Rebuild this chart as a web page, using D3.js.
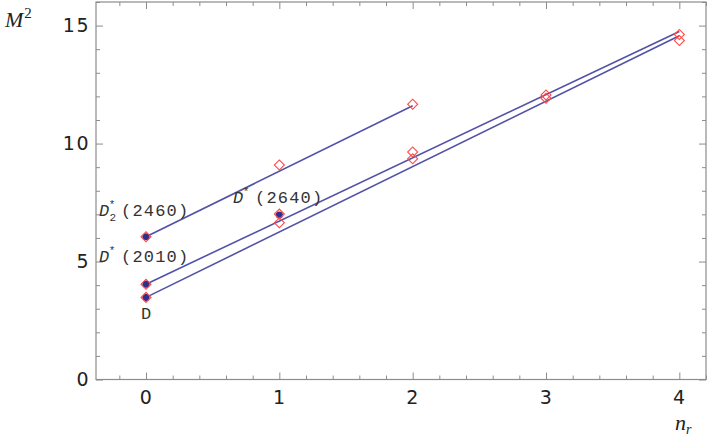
<!DOCTYPE html>
<html><head><meta charset="utf-8">
<script src="https://cdn.jsdelivr.net/npm/d3@7"></script>
<style>
html,body{margin:0;padding:0;background:#fff;}
svg{display:block;}
.tick text{font-family:"DejaVu Sans",sans-serif;font-size:19px;fill:#222;letter-spacing:1.5px;}
</style>
</head><body>
<svg id="chart" width="708" height="440"></svg>
<script>
// n_r values
const nrD = [0, 1, 2, 3, 4];
const nrDstar = [0, 1, 2, 3, 4];
const nrD2star = [0, 1, 2];
// predicted M^2 (diamonds)
const predD = [3.48, 6.64, 9.36, 11.92, 14.37];
const predDstar = [4.04, 7.01, 9.64, 12.06, 14.62];
const predD2star = [6.05, 9.09, 11.67];
// experimental M^2 (filled dots)
const expN = [0, 0, 0, 1];
const expM2 = [3.48, 4.04, 6.05, 6.97];
// straight trajectory lines: [n start, n end] and M^2 at those ends
const lineN = [[0, 4], [0, 4], [0, 2]];
const lineM2 = [[3.48, 14.57], [4.04, 14.75], [6.05, 11.6]];
// axis ticks
const xMajor = [0, 1, 2, 3, 4];
const xMinor = [-0.2, 0.2, 0.4, 0.6, 0.8, 1.2, 1.4, 1.6, 1.8, 2.2, 2.4, 2.6, 2.8, 3.2, 3.4, 3.6, 3.8, 4.2];
const yMajor = [0, 5, 10, 15];
const yMinor = [1, 2, 3, 4, 6, 7, 8, 9, 11, 12, 13, 14, 16];

const svg = d3.select("#chart");
const L = 96, R = 706, T = 2, B = 379.5;
const x = d3.scaleLinear().domain([-0.375, 4.2]).range([L, R]);
const y = d3.scaleLinear().domain([0, 16]).range([B, T]);

const axisColor = "#8c8c8c";
function styleAxis(g) {
  g.select(".domain").remove();
  g.selectAll(".tick line").attr("stroke", axisColor).attr("stroke-width", 1);
}
// bottom
svg.append("g").attr("transform", `translate(0,${B})`)
  .call(d3.axisBottom(x).tickValues(xMajor).tickSize(-7).tickPadding(11).tickFormat(d3.format("d")))
  .call(styleAxis);
svg.append("g").attr("transform", `translate(0,${B})`)
  .call(d3.axisBottom(x).tickValues(xMinor).tickSize(-4).tickFormat(""))
  .call(styleAxis);
// top mirror
svg.append("g").attr("transform", `translate(0,${T})`)
  .call(d3.axisTop(x).tickValues(xMajor).tickSize(-7).tickFormat(""))
  .call(styleAxis);
svg.append("g").attr("transform", `translate(0,${T})`)
  .call(d3.axisTop(x).tickValues(xMinor).tickSize(-4).tickFormat(""))
  .call(styleAxis);
// left
svg.append("g").attr("transform", `translate(${L},0)`)
  .call(d3.axisLeft(y).tickValues(yMajor).tickSize(-7).tickPadding(6).tickFormat(d3.format("d")))
  .call(styleAxis);
svg.append("g").attr("transform", `translate(${L},0)`)
  .call(d3.axisLeft(y).tickValues(yMinor).tickSize(-4).tickFormat(""))
  .call(styleAxis);
// right mirror
svg.append("g").attr("transform", `translate(${R},0)`)
  .call(d3.axisRight(y).tickValues(yMajor).tickSize(-7).tickFormat(""))
  .call(styleAxis);
svg.append("g").attr("transform", `translate(${R},0)`)
  .call(d3.axisRight(y).tickValues(yMinor).tickSize(-4).tickFormat(""))
  .call(styleAxis);
// frame
svg.append("rect").attr("x", L).attr("y", T).attr("width", R - L).attr("height", B - T)
  .attr("fill", "none").attr("stroke", axisColor).attr("stroke-width", 1.2);

// lines
const lineColor = "#5252a8";
lineN.forEach((ns, i) => {
  svg.append("line")
    .attr("x1", x(ns[0])).attr("y1", y(lineM2[i][0]))
    .attr("x2", x(ns[1])).attr("y2", y(lineM2[i][1]))
    .attr("stroke", lineColor).attr("stroke-width", 1.6);
});

// experimental dots
const dotColor = "#2f2f8c";
svg.selectAll("circle.exp").data(expN.map((n, i) => [n, expM2[i]])).enter()
  .append("circle").attr("class", "exp")
  .attr("cx", d => x(d[0])).attr("cy", d => y(d[1])).attr("r", 3.6)
  .attr("fill", dotColor);

// diamonds
const diamond = d3.symbol().type(d3.symbolSquare).size(50);
const diaColor = "#ff4a4a";
[[nrD, predD], [nrDstar, predDstar], [nrD2star, predD2star]].forEach(([ns, vs]) => {
  svg.selectAll(null).data(ns.map((n, i) => [n, vs[i]])).enter()
    .append("path").attr("d", diamond)
    .attr("transform", d => `translate(${x(d[0])},${y(d[1])}) rotate(45)`)
    .attr("fill", "none").attr("stroke", diaColor).attr("stroke-width", 1.1);
});

// state labels
const mono = '"Liberation Mono", "Courier New", monospace';
function stateLabel(px, py, sub, mass) {
  const t = svg.append("text").attr("x", px).attr("y", py)
    .attr("font-family", mono).attr("font-size", 17).attr("fill", "#333");
  t.append("tspan").attr("font-style", "italic").text("D");
  t.append("tspan").attr("font-size", 11).attr("dx", -0.5).attr("dy", -8).text("*");
  if (sub) {
    t.append("tspan").attr("font-size", 11).attr("x", px + 10.5).attr("dy", 13).text(sub);
    t.append("tspan").attr("x", px + 22).attr("dy", -5).attr("letter-spacing", 1.2).text(mass);
  } else {
    t.append("tspan").attr("x", px + 22).attr("dy", 8).attr("letter-spacing", 1.2).text(mass);
  }
}
stateLabel(99, 216, "2", "(2460)");
stateLabel(99, 262, null, "(2010)");
stateLabel(233, 203, null, "(2640)");
svg.append("text").attr("x", x(0)).attr("y", 319).attr("text-anchor", "middle")
  .attr("font-family", mono).attr("font-size", 17).attr("fill", "#333").text("D");

// axis titles
const yt = svg.append("text").attr("x", 5).attr("y", 27).attr("font-family", '"Liberation Serif", serif')
  .attr("font-size", 22).attr("fill", "#222");
yt.append("tspan").attr("font-style", "italic").text("M");
yt.append("tspan").attr("font-size", 15).attr("dy", -9).attr("dx", 1).text("2");
const xt = svg.append("text").attr("x", 675).attr("y", 430).attr("font-family", '"Liberation Serif", serif')
  .attr("font-size", 22).attr("fill", "#222");
xt.append("tspan").attr("font-style", "italic").text("n");
xt.append("tspan").attr("font-style", "italic").attr("font-size", 14).attr("dy", 4).text("r");
</script>
</body></html>
